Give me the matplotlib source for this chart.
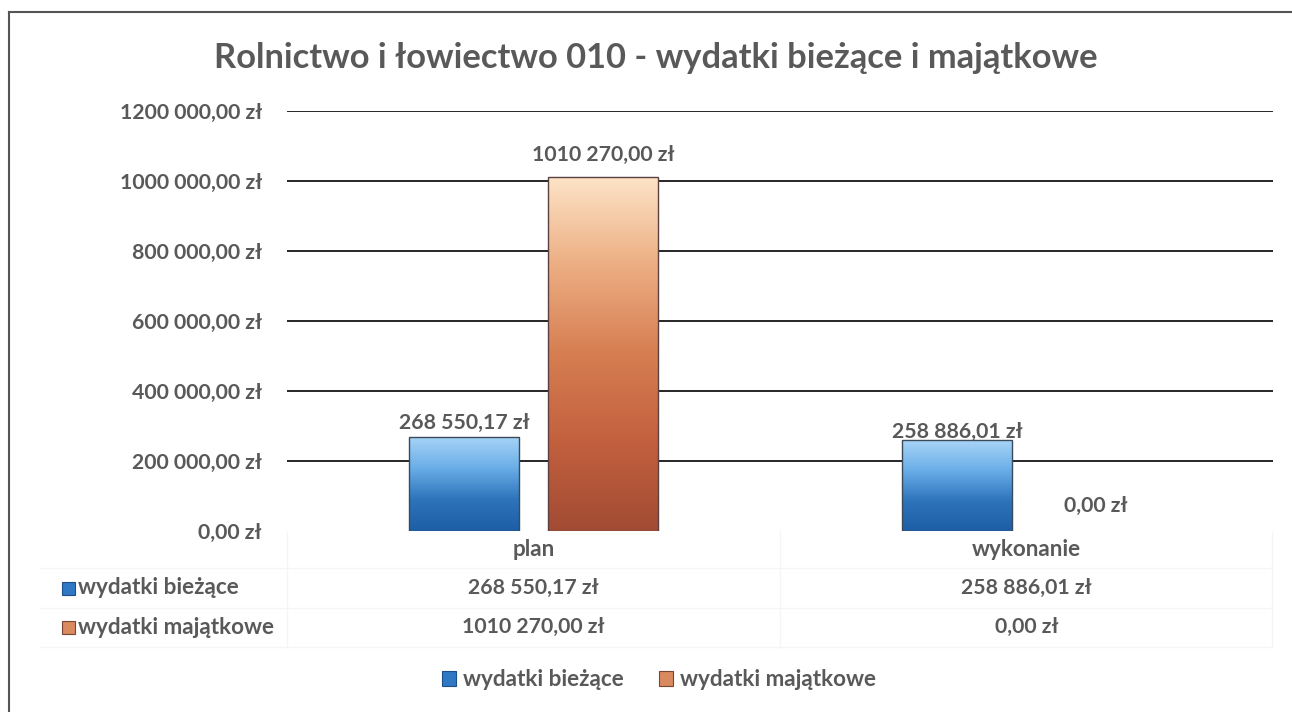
import numpy as np
import matplotlib
matplotlib.use("Agg")
import matplotlib.pyplot as plt
from matplotlib.colors import LinearSegmentedColormap
from matplotlib.patches import Rectangle
from matplotlib.lines import Line2D

title = "Rolnictwo i łowiectwo 010 - wydatki bieżące i majątkowe"
categories = ["plan", "wykonanie"]
series_names = ["wydatki bieżące", "wydatki majątkowe"]
biezace = [268550.17, 258886.01]
majatkowe = [1010270.00, 0.00]
yticks = [0, 200000, 400000, 600000, 800000, 1000000, 1200000]

def fmt_val(v):
    ip = int(round(v * 100)) // 100
    dp = int(round(v * 100)) % 100
    s = str(ip)
    if len(s) > 3:
        s = s[:-3] + " " + s[-3:]
    return f"{s},{dp:02d} zł"

plt.rcParams['font.family'] = ['Lato', 'DejaVu Sans']
TXT = "#595959"
FSN = 15.3   # numbers
FSW = 16.2   # words

W, H = 1292, 712
fig = plt.figure(figsize=(W / 100, H / 100), dpi=100)

ax = fig.add_axes([287 / W, 1 - 531 / H, (1273 - 287) / W, (531 - 110.5) / H])
for s in ax.spines.values():
    s.set_visible(False)
ax.set_yticks(yticks)
ax.set_yticklabels([fmt_val(v) for v in yticks], fontsize=FSN, fontweight='bold', color=TXT)
ax.tick_params(axis='y', length=0, pad=18)
ax.set_xticks([])
for v in yticks[1:]:
    ax.axhline(v, color="#262626", lw=1.4, zorder=1)

x = np.arange(len(categories))
bw = 0.225
off = 0.141
b1 = ax.bar(x - off, biezace, bw, color="#4a8fd6", edgecolor="#3a4a5a", lw=1.0, zorder=2)
b2 = ax.bar(x + off, majatkowe, bw, color="#d07a50", edgecolor="#5a4040", lw=1.0, zorder=2)

blue_cmap = LinearSegmentedColormap.from_list("b", ["#1d5ea6", "#2d74bb", "#6aaee8", "#a8d4f7"])
orange_cmap = LinearSegmentedColormap.from_list("o", ["#a24b34", "#c2603e", "#d67e52", "#ecae82", "#fde4c8"])

def grad_fill(bars, cmap):
    for r in bars:
        h = r.get_height()
        if h <= 0:
            r.set_visible(False)
            continue
        xx, yy, ww = r.get_x(), r.get_y(), r.get_width()
        grad = np.linspace(0, 1, 256).reshape(-1, 1)
        im = ax.imshow(grad, cmap=cmap, origin='lower', aspect='auto',
                       extent=[xx, xx + ww, yy, yy + h], zorder=2.5)
        im.set_clip_path(r)
        r.set_facecolor("none")
        r.set_zorder(3)

grad_fill(b1, blue_cmap)
grad_fill(b2, orange_cmap)
ax.set_xlim(-0.5, 1.5)
ax.set_ylim(0, 1200000)

lbl_kw = dict(fontsize=FSN, fontweight='bold', color=TXT, ha='center', va='bottom')
pads1 = [3, -1]
for i, v in enumerate(biezace):
    ax.annotate(fmt_val(v), (x[i] - off, v), xytext=(0, pads1[i]), textcoords='offset points', **lbl_kw)
pads2 = [9, 11]
for i, v in enumerate(majatkowe):
    ax.annotate(fmt_val(v), (x[i] + off, v), xytext=(0, pads2[i]), textcoords='offset points', **lbl_kw)

def fy(p):
    return 1 - p / H

for i, c in enumerate(categories):
    xf = (287 + (x[i] + 0.5) * (1273 - 287) / 2) / W
    fig.text(xf, fy(549), c, ha='center', va='center', fontsize=FSW, fontweight='bold', color=TXT)
    fig.text(xf, fy(588), fmt_val(biezace[i]), ha='center', va='center', fontsize=FSN, fontweight='bold', color=TXT)
    fig.text(xf, fy(627), fmt_val(majatkowe[i]), ha='center', va='center', fontsize=FSN, fontweight='bold', color=TXT)

for yp in [568, 608, 647]:
    fig.add_artist(Line2D([40 / W, 1272 / W], [fy(yp), fy(yp)], color="#f5f5f5", lw=1))
for xp in [287, 780, 1272]:
    fig.add_artist(Line2D([xp / W, xp / W], [fy(531), fy(647)], color="#f5f5f5", lw=1))

row_cols = [("#2f78c4", "#1d4f8a"), ("#d98a5e", "#7a4535")]
for j, (name, yp) in enumerate(zip(series_names, [588, 627])):
    fig.add_artist(Rectangle((62 / W, fy(yp + 6.5)), 13 / W, 13 / H, facecolor=row_cols[j][0],
                             edgecolor=row_cols[j][1], lw=0.8))
    fig.text(78 / W, fy(yp), name, ha='left', va='center', fontsize=FSW, fontweight='bold', color=TXT)

handles = [Rectangle((0, 0), 1, 1, facecolor=row_cols[0][0], edgecolor=row_cols[0][1], lw=0.8),
           Rectangle((0, 0), 1, 1, facecolor=row_cols[1][0], edgecolor=row_cols[1][1], lw=0.8)]
leg = fig.legend(handles, series_names, loc='center', bbox_to_anchor=(659 / W, fy(680)), ncol=2,
                 frameon=False, handlelength=0.6, handleheight=0.6, handletextpad=0.3,
                 columnspacing=1.6, prop={'size': FSW, 'weight': 'bold'})
for t in leg.get_texts():
    t.set_color(TXT)

fig.text(656 / W, fy(58), title, ha='center', va='center', fontsize=24.8, fontweight='bold', color=TXT)

fig.add_artist(Line2D([9 / W, 9 / W], [fy(12), 0], color="#555555", lw=1.5))
fig.add_artist(Line2D([9 / W, 1], [fy(12), fy(12)], color="#555555", lw=1.5))

fig.savefig("out.png", dpi=100)
